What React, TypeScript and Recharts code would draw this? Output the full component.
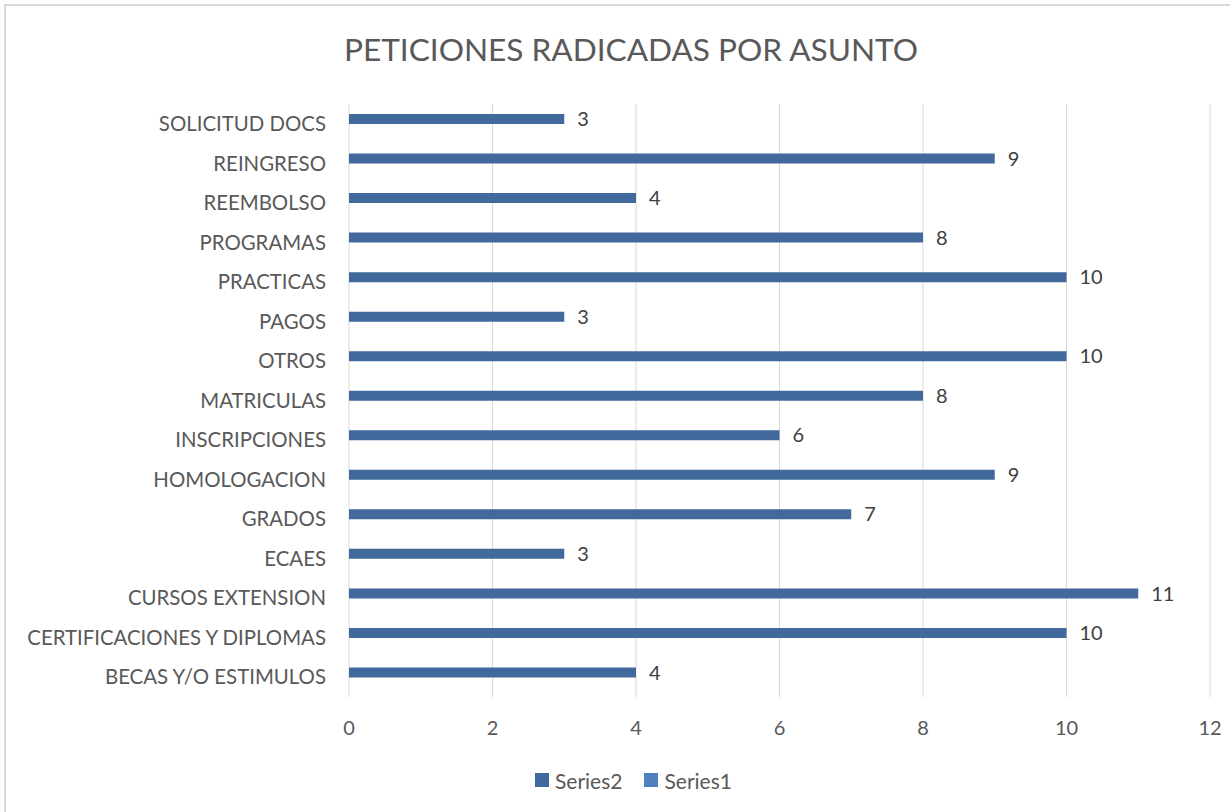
import React from 'react';
import {
  BarChart,
  Bar,
  XAxis,
  YAxis,
  CartesianGrid,
  Legend,
  LabelList
} from 'recharts';

const categories = [
  'SOLICITUD DOCS',
  'REINGRESO',
  'REEMBOLSO',
  'PROGRAMAS',
  'PRACTICAS',
  'PAGOS',
  'OTROS',
  'MATRICULAS',
  'INSCRIPCIONES',
  'HOMOLOGACION',
  'GRADOS',
  'ECAES',
  'CURSOS EXTENSION',
  'CERTIFICACIONES Y DIPLOMAS',
  'BECAS Y/O ESTIMULOS'
];

const series2 = [3, 9, 4, 8, 10, 3, 10, 8, 6, 9, 7, 3, 11, 10, 4];
// Series1 is in the legend but has no values
const series1: (number | null)[] = categories.map(() => null);

const xTicks = [0, 2, 4, 6, 8, 10, 12];

const legendItems = [
  { key: 'Series2', color: '#41699B' },
  { key: 'Series1', color: '#4F81BD' }
];

const FONT = 'Lato, "Liberation Sans", sans-serif';
const TEXT = '#595959';

const data = categories.map((name, i) => ({
  name,
  Series2: series2[i],
  Series1: series1[i]
}));

const LegendBox = () => (
  <div style={{ display: 'flex', alignItems: 'center', height: 30, marginLeft: 535 }}>
    {legendItems.map(item => (
      <div key={item.key} style={{ display: 'flex', alignItems: 'center', marginRight: 22 }}>
        <span style={{ width: 14, height: 14, background: item.color, display: 'inline-block', marginRight: 6 }} />
        <span style={{ fontSize: 21, color: TEXT, fontFamily: FONT }}>{item.key}</span>
      </div>
    ))}
  </div>
);

const App: React.FC = () => {
  return (
    <div
      style={{
        position: 'absolute',
        left: 0,
        top: 0,
        width: 1230,
        height: 812,
        overflow: 'hidden',
        background: '#fff',
        fontFamily: FONT
      }}
    >
      <div
        style={{
          position: 'absolute',
          left: 4,
          top: 4,
          width: 1260,
          height: 840,
          border: '2px solid #D9D9D9',
          boxSizing: 'border-box'
        }}
      />
      <div
        style={{
          position: 'absolute',
          left: 0,
          top: 29,
          width: 1262,
          textAlign: 'center',
          fontSize: 31.6,
          color: TEXT,
          lineHeight: '40px'
        }}
      >
        PETICIONES RADICADAS POR ASUNTO
      </div>
      <div style={{ position: 'absolute', left: 0, top: 0 }}>
        <BarChart
          width={1230}
          height={812}
          data={data}
          layout="vertical"
          margin={{ top: 104, right: 20, bottom: 45, left: 0 }}
          barSize={10}
          barGap={0}
        >
          <CartesianGrid horizontal={false} stroke="#D9D9D9" />
          <XAxis
            type="number"
            domain={[0, 12]}
            ticks={xTicks}
            axisLine={false}
            tickLine={false}
            tickMargin={18}
            height={40}
            tick={{ fill: TEXT, fontSize: 20, fontFamily: FONT }}
          />
          <YAxis
            type="category"
            dataKey="name"
            width={349}
            axisLine={false}
            tickLine={false}
            tickMargin={17}
            interval={0}
            tick={{ fill: TEXT, fontSize: 20.4, fontFamily: FONT }}
          />
          <Legend
            verticalAlign="bottom"
            wrapperStyle={{ top: 765, left: 0, width: 1230 }}
            content={<LegendBox />}
          />
          <Bar dataKey="Series2" fill="#41699B" isAnimationActive={false}>
            <LabelList
              dataKey="Series2"
              position="right"
              offset={13}
              fill="#404040"
              fontSize={20}
              fontFamily={FONT}
            />
          </Bar>
          <Bar dataKey="Series1" fill="#4F81BD" isAnimationActive={false} />
        </BarChart>
      </div>
    </div>
  );
};

export default App;
